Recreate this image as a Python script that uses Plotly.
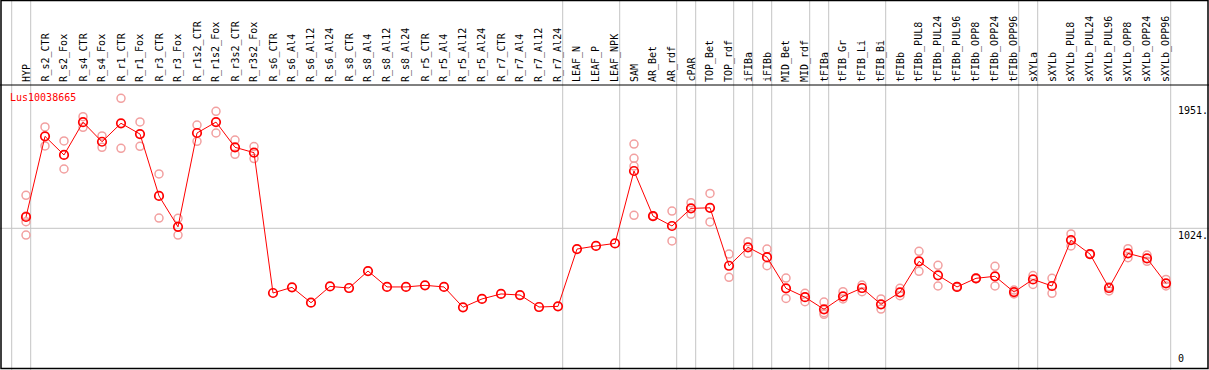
import plotly.graph_objects as go

categories = ["HYP","R_s2_CTR","R_s2_Fox","R_s4_CTR","R_s4_Fox","R_r1_CTR","R_r1_Fox","R_r3_CTR","R_r3_Fox",
              "R_r1s2_CTR","R_r1s2_Fox","R_r3s2_CTR","R_r3s2_Fox","R_s6_CTR","R_s6_Al4","R_s6_Al12","R_s6_Al24",
              "R_s8_CTR","R_s8_Al4","R_s8_Al12","R_s8_Al24","R_r5_CTR","R_r5_Al4","R_r5_Al12","R_r5_Al24",
              "R_r7_CTR","R_r7_Al4","R_r7_Al12","R_r7_Al24","LEAF_N","LEAF_P","LEAF_NPK","SAM","AR_Bet","AR_rdf",
              "cPAR","TOP_Bet","TOP_rdf","iFIBa","iFIBb","MID_Bet","MID_rdf","tFIBa","tFIB_Gr","tFIB_Li","tFIB_Bi",
              "tFIBb","tFIBb_PUL8","tFIBb_PUL24","tFIBb_PUL96","tFIBb_OPP8","tFIBb_OPP24","tFIBb_OPP96","sXYLa",
              "sXYLb","sXYLb_PUL8","sXYLb_PUL24","sXYLb_PUL96","sXYLb_OPP8","sXYLb_OPP24","sXYLb_OPP96"]

means = [1108,1706,1568,1811,1666,1803,1723,1264,1035,1731,1812,1625,1585,544,586,472,593,581,707,589,
         589,601,589,438,500,537,529,440,445,870,893,912,1449,1115,1041,1172,1176,746,883,810,579,513,423,
         519,581,460,549,779,675,589,653,668,551,645,596,937,833,581,838,801,616]

replicates = [[1269,1115,1073,974],[1776,1635],[1672,1464],[1852,1773],[1709,1625],[1988,1617],[1813,1632],
              [1427,1100],[1098,974],[1790,1669],[1892,1731],[1679,1573],[1630,1541],
              [],[],[],[],[],[],[],[],[],[],[],[],[],[],[],[],[],[],[],
              [1649,1543,1486,1120],[1118,1112],[1152,930],[1214,1128],[1283,1071],[833,660],[925,838],
              [870,747],[655,504],[542,480],[477,398,386],[554,500],[603,554],[500,425],[579,524],[853,705],
              [749,596],[592,586],[656,650],[742,596],[566,537],[673,608],[653,542],[982,893],[836,830],
              [591,559],[873,806],[826,779],[645,596]]

separators_after = [-1, 0, 28, 31, 34, 35, 37, 38, 39, 41, 42, 45, 52, 53, 60]
tick_values = [1951, 1024, 0]
gene_name = "Lus10038665"

W, H = 1209, 370
HEADER = 85
x0_px, step_px = 26, 19
# value -> pixel mapping
v_top = 1024 + (228.3 - HEADER) / 0.1348
v_bot = 1024 + (228.3 - H) / 0.1348

xs = list(range(len(categories)))
rx, ry = [], []
for i, reps in enumerate(replicates):
    for v in reps:
        rx.append(i)
        ry.append(v)

fig = go.Figure()
fig.add_trace(go.Scatter(x=rx, y=ry, mode="markers",
                         marker=dict(symbol="circle-open", size=8, color="#f2a0a0", line=dict(width=1.5)),
                         hoverinfo="skip", showlegend=False))
fig.add_trace(go.Scatter(x=xs, y=means, mode="lines+markers",
                         line=dict(color="#ff0000", width=1),
                         marker=dict(symbol="circle-open", size=8.5, color="#ff0000", line=dict(width=1.7)),
                         showlegend=False))

shapes = []
for s in separators_after:
    shapes.append(dict(type="line", xref="x", yref="paper", x0=s + 4.7 / step_px, x1=s + 4.7 / step_px,
                       y0=0, y1=1, line=dict(color="#c4c4c4", width=1), layer="below"))
shapes.append(dict(type="line", xref="paper", yref="y", x0=0, x1=1, y0=1024, y1=1024,
                   line=dict(color="#c4c4c4", width=1), layer="below"))
# frame
shapes.append(dict(type="rect", xref="paper", yref="paper", x0=1 / W, x1=1 - 1 / W, y0=1.5 / H, y1=1 - 0.5 / H,
                   line=dict(color="black", width=1.5)))
shapes.append(dict(type="line", xref="paper", yref="paper", x0=0, x1=1, y0=1 - HEADER / H, y1=1 - HEADER / H,
                   line=dict(color="black", width=1)))

annotations = []
mono = "DejaVu Sans Mono"
for i, c in enumerate(categories):
    annotations.append(dict(x=i, xref="x", y=1 - 84 / H, yref="paper", text=c, showarrow=False,
                            textangle=-90, xanchor="center", yanchor="bottom",
                            font=dict(family=mono, size=10, color="black")))
annotations.append(dict(x=8 / W, xref="paper", y=1 - 90 / H, yref="paper", text=gene_name, showarrow=False,
                        xanchor="left", yanchor="top", font=dict(family=mono, size=10, color="#ff0000")))
for v in tick_values:
    annotations.append(dict(x=1176 / W, xref="paper", y=v, yref="y",
                            text=(str(v) + ".") if v else "0", showarrow=False, xanchor="left",
                            yanchor="top" if v else "bottom",
                            font=dict(family=mono, size=10, color="black")))

fig.update_layout(
    width=W, height=H, margin=dict(l=0, r=0, t=0, b=0),
    paper_bgcolor="white", plot_bgcolor="white",
    xaxis=dict(range=[(0 - x0_px) / step_px, (W - x0_px) / step_px], visible=False, domain=[0, 1]),
    yaxis=dict(range=[v_bot, v_top], visible=False, domain=[0, 1 - HEADER / H]),
    shapes=shapes, annotations=annotations,
)

fig.write_html("out.html", config={"displayModeBar": False},
               post_script="document.body.style.margin='0px';document.body.style.overflow='hidden';")
